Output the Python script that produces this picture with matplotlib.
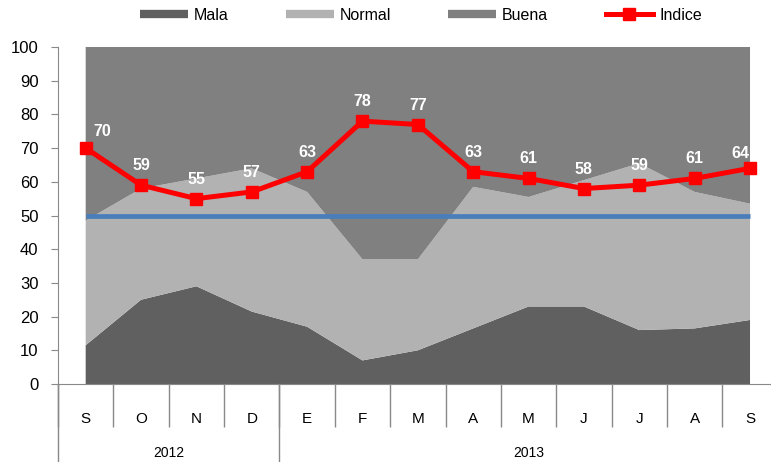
import matplotlib
matplotlib.use("Agg")
from matplotlib import pyplot as plt
from matplotlib.lines import Line2D

# Datos
meses = ["S", "O", "N", "D", "E", "F", "M", "A", "M", "J", "J", "A", "S"]
anios = ["2012", "2013"]
meses_por_anio = [4, 9]
mala = [11.5, 25, 29, 21.5, 17, 7, 10, 16.5, 23, 23, 16, 16.5, 19]
normal = [37, 33, 32, 42.5, 40, 30, 27, 42, 32.5, 37.5, 49.5, 40.5, 34.5]
buena = [51.5, 42, 39, 36, 43, 63, 63, 41.5, 44.5, 39.5, 34.5, 43, 46.5]
indice = [70, 59, 55, 57, 63, 78, 77, 63, 61, 58, 59, 61, 64]
umbral = [50, 50, 50, 50, 50, 50, 50, 50, 50, 50, 50, 50, 50]

narrow = ["Liberation Sans Narrow", "Liberation Sans", "DejaVu Sans"]
plt.rcParams["font.family"] = ["Liberation Sans", "DejaVu Sans"]

fig = plt.figure(figsize=(7.71, 4.62), dpi=100)
ax = fig.add_axes([58 / 771, 1 - 384 / 462, 719.7 / 771, 337 / 462])

x = list(range(len(meses)))
ax.stackplot(x, mala, normal, buena, colors=["#606060", "#b2b2b2", "#808080"], linewidth=0)
ax.plot(x, umbral, color="#4a7ebb", linewidth=3.4, solid_capstyle="butt")
ax.plot(x, indice, color="#ff0000", linewidth=3.6, marker="s", markersize=8)

# Etiquetas de valores
for i, v in enumerate(indice):
    dx = 12 if i == 0 else 0
    dy = 12 if i == 0 else 14
    if i == len(indice) - 1:
        dx = -7
        dy = 11
    ax.annotate(str(v), (i, v), xytext=(dx, dy), textcoords="offset points",
                ha="center", va="center", color="white", fontsize=11.5, fontweight="bold")

ax.set_xlim(-0.5, 12.5)
ax.set_ylim(0, 100)
ax.set_yticks(range(0, 101, 10))
ax.tick_params(axis="y", length=5, color="#898989", labelsize=12, pad=9)

# eje x: separadores de meses y etiquetas
ax.set_xticks([i - 0.5 for i in range(len(meses) + 1)])
ax.set_xticklabels([])
ax.set_xticks(x, minor=True)
ax.set_xticklabels(meses, minor=True, fontsize=11, family=narrow)
ax.tick_params(axis="x", which="major", length=31, color="#898989", width=1)
ax.tick_params(axis="x", which="minor", length=0, pad=20)

for s in ["top", "right"]:
    ax.spines[s].set_visible(False)
for s in ["left", "bottom"]:
    ax.spines[s].set_color("#898989")

# separadores de anios y etiquetas
trans = ax.get_xaxis_transform()
inicio = -0.5
for anio, n in zip(anios, meses_por_anio):
    ax.plot([inicio, inicio], [0, -0.24], color="#898989", linewidth=1, transform=trans, clip_on=False)
    ax.text(inicio + n / 2, -0.205, anio, transform=trans, ha="center", va="center",
            fontsize=10, family=narrow)
    inicio += n

# leyenda
handles = [
    Line2D([], [], color="#606060", linewidth=6, solid_capstyle="butt"),
    Line2D([], [], color="#b2b2b2", linewidth=6, solid_capstyle="butt"),
    Line2D([], [], color="#808080", linewidth=6, solid_capstyle="butt"),
    Line2D([], [], color="#ff0000", linewidth=3.6, marker="s", markersize=8),
]
fig.legend(handles, ["Mala", "Normal", "Buena", "Indice"], loc="center", ncol=4,
           bbox_to_anchor=(421 / 771, 1 - 15 / 462), frameon=False, handlelength=3.0,
           handletextpad=0.35, columnspacing=3.6, prop={"family": narrow, "size": 11.5})

fig.savefig("out.png", dpi=100)
